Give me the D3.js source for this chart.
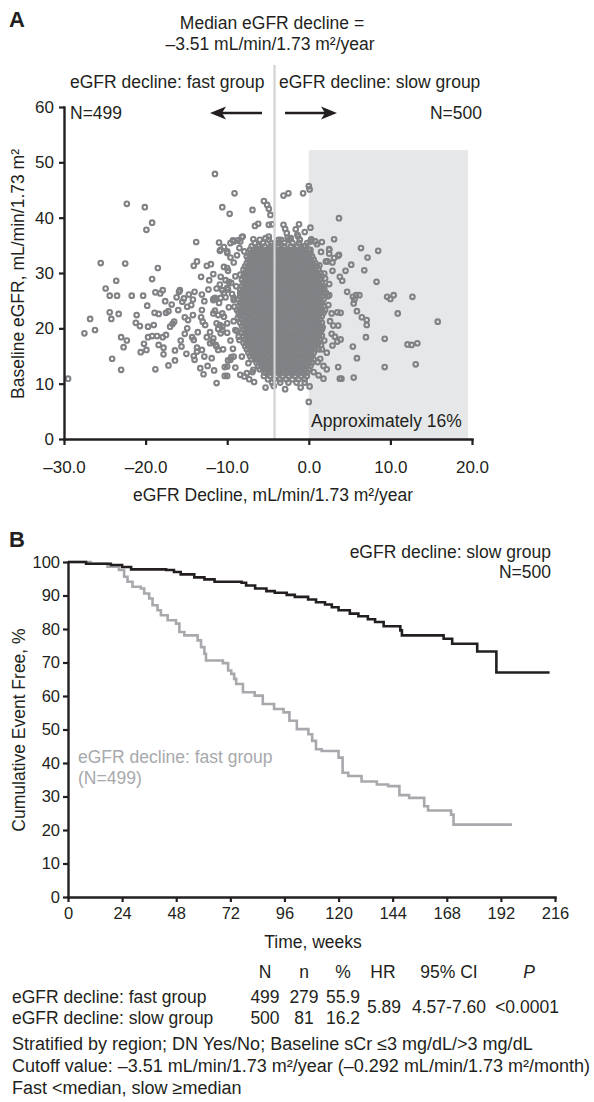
<!DOCTYPE html>
<html lang="en">
<head>
<meta charset="UTF-8">
<title>eGFR decline</title>
<script src="https://cdn.jsdelivr.net/npm/d3@7"></script>
<style>
  body { margin: 0; background: #fff; }
  svg { display: block; font-family: "Liberation Sans", Arial, sans-serif; }
</style>
</head>
<body>
<svg width="594" height="1102"></svg>
<script>
// ---------- panel A data (eGFR decline vs baseline eGFR) ----------
// outlying / scattered points, [decline, baseline]
var scatterPoints = [
  [-11.5,47.9],[-22.3,42.5],[-20.1,41.9],[-19.2,39.1],[-19.9,37.8],[-9.1,44.4],[-10.6,41.9],[-9.7,40.7],
  [-6.9,41.4],[-5.5,43.0],[-5.1,42.3],[-4.9,41.6],[-4.7,40.5],[-6.2,38.9],[-4.9,38.7],[-4.5,38.8],
  [-3.1,44.0],[-2.5,44.4],[-3.1,38.7],[-1.2,38.8],[-1.6,37.9],[-13.8,35.6],[-10.9,34.0],[-10.0,33.6],
  [-9.3,35.9],[-8.7,35.9],[-8.1,36.6],[-25.5,31.8],[-22.5,31.7],[-18.5,30.9],[-19.2,28.9],[-23.6,28.6],
  [-24.9,27.2],[-13.7,32.1],[-14.1,31.3],[-13.2,29.3],[-12.5,31.3],[-12.0,31.6],[-10.4,31.1],[-10.2,28.7],
  [-11.3,27.2],[-10.9,27.9],[-4.3,35.0],[-5.3,36.3],[-4.9,36.6],[-2.7,37.2],[-2.2,36.3],[-1.4,36.9],
  [-6.6,38.5],[-8.2,36.5],[-9.2,35.7],[-8.4,35.7],[-9.6,35.4],[-10.8,34.2],[-10.0,33.9],[-6.1,35.1],
  [-24.4,25.9],[-23.5,25.9],[-21.7,25.9],[-20.3,25.9],[-18.2,26.3],[-17.9,26.9],[-15.9,26.6],[-14.7,26.1],
  [-14.0,26.6],[-13.1,26.1],[-29.5,10.9],[-26.8,21.7],[-27.5,19.1],[-26.2,19.7],[-24.4,22.9],[-24.2,21.7],
  [-23.3,22.6],[-21.1,22.4],[-20.7,20.4],[-23.0,18.4],[-22.3,17.8],[-22.7,16.6],[-24.1,14.5],[-23.0,12.5],
  [-20.6,15.7],[-19.9,16.1],[-18.8,12.6],[-19.7,20.3],[-19.0,20.6],[-19.7,18.4],[-19.2,18.6],[-18.6,18.6],
  [-17.9,18.4],[-17.5,18.8],[-18.9,22.8],[-18.4,22.6],[-17.5,22.8],[-17.2,23.1],[-18.8,26.5],[-17.8,16.5],
  [-17.8,15.3],[-16.4,16.0],[-15.6,16.7],[-16.4,14.2],[-15.8,26.9],[-17.0,20.3],[-16.7,20.8],[-16.5,21.2],
  [-16.0,23.3],[-15.5,24.8],[-15.3,25.4],[-14.9,23.9],[-14.4,24.2],[-14.2,25.2],[-15.2,22.0],[-14.8,21.5],
  [-14.2,22.4],[-13.2,22.0],[-13.1,23.3],[-13.0,21.2],[-14.3,18.4],[-14.1,17.9],[-13.7,15.8],[-14.1,15.0],
  [-14.0,14.3],[-13.7,16.5],[-13.1,16.1],[-12.9,11.7],[-12.5,18.4],[-12.1,19.3],[-11.8,17.6],[-11.4,17.0],
  [-11.1,19.9],[-10.9,20.6],[-11.3,10.1],[-10.3,11.4],[-10.0,11.4],[-10.3,13.0],[-9.9,14.2],[-9.5,14.8],
  [-8.4,11.6],[-7.9,11.3],[-7.3,10.8],[-6.7,10.3],[-5.3,9.3],[-4.3,9.6],[-2.9,9.0],[-1.0,9.3],[0.1,9.5],
  [-12.8,24.9],[-12.3,27.0],[-11.7,25.3],[-11.5,23.2],[-11.0,24.6],[-10.6,22.7],[-10.2,25.6],[-9.8,23.8],
  [-9.4,26.2],[-9.2,21.3],[-10.0,19.2],[-9.6,17.8],[-10.5,16.2],[-11.9,14.6],[-12.4,13.2],[-11.6,12.4],
  [-9.3,16.3],[-9.0,12.9],[-8.8,19.5],[-12.7,20.6],[-12.2,28.7],[-11.7,29.8],[-10.8,29.3],[-9.9,30.4],
  [-9.2,31.9],[-8.8,33.2],[-9.6,32.8],[-10.4,34.7],[-11.0,35.5],[-8.5,34.5],[-9.5,28.2],[-9.9,27.0],
  [-10.0,30.9],[-10.6,26.9],[-9.8,28.4],[-10.8,25.5],[-11.5,25.5],[-9.0,29.4],[-9.2,25.5],[-12.1,17.3],
  [-11.7,18.2],[-11.3,16.7],[-11.1,16.1],[-10.8,19.1],[-10.6,19.7],[-10.0,13.1],[-9.6,14.3],[-9.2,14.9],
  [-11.7,25.1],[-10.4,26.4],[-10.0,27.3],[-11.7,22.7],[-11.1,22.4],[-10.4,22.1],[-11.3,20.9],[-10.6,20.3],
  [-10.0,20.9],[-9.2,25.1],[-8.8,23.3],[-9.0,19.7],[-8.6,18.5],[-8.2,14.9],[-7.4,13.7],[-6.8,12.5],[-7.6,11.9],
  [-15.2,19.0],[-15.7,17.8],[-14.9,20.0],[-13.6,19.3],[-12.8,14.9],[-13.3,12.8],[-15.0,15.4],[-16.8,24.3],
  [-17.6,24.9],[-16.2,25.6],[-19.8,24.1],[-21.2,21.0],[-20.2,17.2],[-18.4,17.0],[-17.2,13.3],
  [3.7,39.9],[0.0,45.7],[0.1,45.1],[-0.7,44.4],[-2.9,38.0],[0.2,38.2],[-0.5,37.4],[-1.3,36.6],[-2.6,36.4],
  [3.1,36.1],[2.5,34.3],[6.4,34.5],[8.5,34.0],[7.2,32.8],[3.6,33.1],[5.2,31.5],[6.8,30.5],[2.1,32.1],
  [2.9,31.9],[2.9,30.4],[0.3,36.1],[1.0,35.2],[4.1,28.6],[8.3,28.4],[4.7,26.6],[5.8,26.0],[6.2,26.0],
  [5.4,25.7],[9.6,25.7],[10.4,26.0],[12.7,25.7],[10.0,25.3],[2.3,25.8],[10.9,22.7],[15.8,21.2],[12.1,17.1],
  [12.6,17.0],[13.3,17.3],[13.1,13.5],[9.3,18.1],[9.3,13.0],[7.0,18.4],[7.1,21.5],[7.1,20.6],[6.5,22.0],
  [5.9,23.1],[5.5,24.5],[5.6,25.2],[2.1,26.4],[2.8,22.7],[3.5,22.9],[3.9,22.8],[3.0,20.5],[3.6,20.5],
  [2.8,19.0],[3.2,18.5],[3.5,17.6],[3.9,18.0],[2.9,16.9],[1.9,17.8],[1.5,17.0],[5.4,16.7],[5.9,14.6],
  [5.5,11.1],[3.6,13.0],[3.8,10.9],[4.0,10.9],[0.0,6.7],[1.4,14.5],[1.8,13.2],[2.2,12.6],[1.8,10.9],
  [1.2,11.5],[2.0,29.0],[2.5,28.0],[1.9,27.2],[2.4,24.2],[2.0,23.3],[2.6,21.3],[1.7,20.2],[2.2,15.6],
  [1.6,16.2],[4.5,30.4],[3.8,29.3],[2.5,33.5],[1.5,33.8],[1.6,35.6],[0.2,35.7],[0.8,35.7],[0.2,34.2],
  [2.5,34.2],[3.1,32.7],[2.3,32.1],[3.7,33.3],[2.5,26.0],[-8.4,29.7],[-7.8,29.4],[-8.4,26.4],
  [-7.9,33.9],[-6.8,36.1],[-3.4,36.0],[-0.4,34.9],[1.3,31.4],[1.9,29.9],[-8.9,27.6],[-9.1,23.9],
  [-8.7,21.9],[-8.5,17.9],[1.6,18.7],[1.1,13.9],[-6.9,12.1],[0.6,12.1]
];

// the dense centre of the cloud, read row by row: "baseline|declines"
var coreRows = [
  "36.0|-6 -4.9 -3.7 -2.4 -1.1 0.3",
  "35.4|-6.6 -5.6 -4.6 -3.8 -3 -2 -1.2 -0.2",
  "34.8|-7 -6.2 -5.4 -4.6 -3.8 -3 -2.2 -1.4 -0.6",
  "34.2|-7.2 -6.8 -6.4 -6 -5.6 -5.2 -4.8 -4.4 -4 -3.6 -3.2 -2.8 -2.4 -2 -1.6 -1.2 -0.8 -0.4 0",
  "33.6|-7.4 -7 -6.6 -6.2 -5.8 -5.4 -5 -4.6 -4.2 -3.8 -3.4 -3 -2.6 -2.2 -1.8 -1.4 -1 -0.6 -0.2 0.2",
  "33.0|-7.6 -7.2 -6.8 -6.4 -6 -5.6 -5.2 -4.8 -4.4 -4 -3.6 -3.2 -2.8 -2.4 -2 -1.6 -1.2 -0.8 -0.4 0 0.4",
  "32.4|-7.4 -7 -6.6 -6.2 -5.8 -5.4 -5 -4.6 -4.2 -3.8 -3.4 -3 -2.6 -2.2 -1.8 -1.4 -1 -0.6 -0.2 0.2 0.6",
  "31.8|-7.6 -7.2 -6.8 -6.4 -6 -5.6 -5.2 -4.8 -4.4 -4 -3.6 -3.2 -2.8 -2.4 -2 -1.6 -1.2 -0.8 -0.4 0 0.4 0.8",
  "31.2|-7.8 -7.4 -7 -6.6 -6.2 -5.8 -5.4 -5 -4.6 -4.2 -3.8 -3.4 -3 -2.6 -2.2 -1.8 -1.4 -1 -0.6 -0.2 0.2 0.6 1",
  "30.6|-8 -7.6 -7.2 -6.8 -6.4 -6 -5.6 -5.2 -4.8 -4.4 -4 -3.6 -3.2 -2.8 -2.4 -2 -1.6 -1.2 -0.8 -0.4 0 0.4 0.8 1.2",
  "30.0|-7.8 -7.4 -7 -6.6 -6.2 -5.8 -5.4 -5 -4.6 -4.2 -3.8 -3.4 -3 -2.6 -2.2 -1.8 -1.4 -1 -0.6 -0.2 0.2 0.6 1 1.4",
  "29.4|-8 -7.6 -7.2 -6.8 -6.4 -6 -5.6 -5.2 -4.8 -4.4 -4 -3.6 -3.2 -2.8 -2.4 -2 -1.6 -1.2 -0.8 -0.4 0 0.4 0.8 1.2 1.6",
  "28.8|-8.2 -7.8 -7.4 -7 -6.6 -6.2 -5.8 -5.4 -5 -4.6 -4.2 -3.8 -3.4 -3 -2.6 -2.2 -1.8 -1.4 -1 -0.6 -0.2 0.2 0.6 1 1.4",
  "28.2|-8 -7.6 -7.2 -6.8 -6.4 -6 -5.6 -5.2 -4.8 -4.4 -4 -3.6 -3.2 -2.8 -2.4 -2 -1.6 -1.2 -0.8 -0.4 0 0.4 0.8 1.2 1.6",
  "27.6|-8.2 -7.8 -7.4 -7 -6.6 -6.2 -5.8 -5.4 -5 -4.6 -4.2 -3.8 -3.4 -3 -2.6 -2.2 -1.8 -1.4 -1 -0.6 -0.2 0.2 0.6 1 1.4 1.8",
  "27.0|-8.4 -8 -7.6 -7.2 -6.8 -6.4 -6 -5.6 -5.2 -4.8 -4.4 -4 -3.6 -3.2 -2.8 -2.4 -2 -1.6 -1.2 -0.8 -0.4 0 0.4 0.8 1.2 1.6",
  "26.4|-8.2 -7.8 -7.4 -7 -6.6 -6.2 -5.8 -5.4 -5 -4.6 -4.2 -3.8 -3.4 -3 -2.6 -2.2 -1.8 -1.4 -1 -0.6 -0.2 0.2 0.6 1 1.4 1.8",
  "25.8|-8.4 -8 -7.6 -7.2 -6.8 -6.4 -6 -5.6 -5.2 -4.8 -4.4 -4 -3.6 -3.2 -2.8 -2.4 -2 -1.6 -1.2 -0.8 -0.4 0 0.4 0.8 1.2 1.6",
  "25.2|-8.6 -8.2 -7.8 -7.4 -7 -6.6 -6.2 -5.8 -5.4 -5 -4.6 -4.2 -3.8 -3.4 -3 -2.6 -2.2 -1.8 -1.4 -1 -0.6 -0.2 0.2 0.6 1 1.4 1.8",
  "24.6|-8.4 -8 -7.6 -7.2 -6.8 -6.4 -6 -5.6 -5.2 -4.8 -4.4 -4 -3.6 -3.2 -2.8 -2.4 -2 -1.6 -1.2 -0.8 -0.4 0 0.4 0.8 1.2 1.6",
  "24.0|-8.6 -8.2 -7.8 -7.4 -7 -6.6 -6.2 -5.8 -5.4 -5 -4.6 -4.2 -3.8 -3.4 -3 -2.6 -2.2 -1.8 -1.4 -1 -0.6 -0.2 0.2 0.6 1 1.4 1.8",
  "23.4|-8.4 -8 -7.6 -7.2 -6.8 -6.4 -6 -5.6 -5.2 -4.8 -4.4 -4 -3.6 -3.2 -2.8 -2.4 -2 -1.6 -1.2 -0.8 -0.4 0 0.4 0.8 1.2 1.6",
  "22.8|-8.6 -8.2 -7.8 -7.4 -7 -6.6 -6.2 -5.8 -5.4 -5 -4.6 -4.2 -3.8 -3.4 -3 -2.6 -2.2 -1.8 -1.4 -1 -0.6 -0.2 0.2 0.6 1 1.4 1.8",
  "22.2|-8.4 -8 -7.6 -7.2 -6.8 -6.4 -6 -5.6 -5.2 -4.8 -4.4 -4 -3.6 -3.2 -2.8 -2.4 -2 -1.6 -1.2 -0.8 -0.4 0 0.4 0.8 1.2 1.6",
  "21.6|-8.2 -7.8 -7.4 -7 -6.6 -6.2 -5.8 -5.4 -5 -4.6 -4.2 -3.8 -3.4 -3 -2.6 -2.2 -1.8 -1.4 -1 -0.6 -0.2 0.2 0.6 1 1.4",
  "21.0|-8.4 -8 -7.6 -7.2 -6.8 -6.4 -6 -5.6 -5.2 -4.8 -4.4 -4 -3.6 -3.2 -2.8 -2.4 -2 -1.6 -1.2 -0.8 -0.4 0 0.4 0.8 1.2 1.6",
  "20.4|-8.2 -7.8 -7.4 -7 -6.6 -6.2 -5.8 -5.4 -5 -4.6 -4.2 -3.8 -3.4 -3 -2.6 -2.2 -1.8 -1.4 -1 -0.6 -0.2 0.2 0.6 1 1.4",
  "19.8|-8 -7.6 -7.2 -6.8 -6.4 -6 -5.6 -5.2 -4.8 -4.4 -4 -3.6 -3.2 -2.8 -2.4 -2 -1.6 -1.2 -0.8 -0.4 0 0.4 0.8 1.2 1.6",
  "19.2|-8.2 -7.8 -7.4 -7 -6.6 -6.2 -5.8 -5.4 -5 -4.6 -4.2 -3.8 -3.4 -3 -2.6 -2.2 -1.8 -1.4 -1 -0.6 -0.2 0.2 0.6 1 1.4",
  "18.6|-8 -7.6 -7.2 -6.8 -6.4 -6 -5.6 -5.2 -4.8 -4.4 -4 -3.6 -3.2 -2.8 -2.4 -2 -1.6 -1.2 -0.8 -0.4 0 0.4 0.8 1.2",
  "18.0|-7.8 -7.4 -7 -6.6 -6.2 -5.8 -5.4 -5 -4.6 -4.2 -3.8 -3.4 -3 -2.6 -2.2 -1.8 -1.4 -1 -0.6 -0.2 0.2 0.6 1 1.4",
  "17.4|-8 -7.6 -7.2 -6.8 -6.4 -6 -5.6 -5.2 -4.8 -4.4 -4 -3.6 -3.2 -2.8 -2.4 -2 -1.6 -1.2 -0.8 -0.4 0 0.4 0.8 1.2",
  "16.8|-7.8 -7.4 -7 -6.6 -6.2 -5.8 -5.4 -5 -4.6 -4.2 -3.8 -3.4 -3 -2.6 -2.2 -1.8 -1.4 -1 -0.6 -0.2 0.2 0.6",
  "16.2|-7.6 -7.2 -6.8 -6.4 -6 -5.6 -5.2 -4.8 -4.4 -4 -3.6 -3.2 -2.8 -2.4 -2 -1.6 -1.2 -0.8 -0.4 0 0.4 0.8 1.2",
  "15.6|-7.4 -7 -6.6 -6.2 -5.8 -5.4 -5 -4.6 -4.2 -3.8 -3.4 -3 -2.6 -2.2 -1.8 -1.4 -1 -0.6 -0.2 0.2 0.6",
  "15.0|-7.2 -6.8 -6.4 -6 -5.6 -5.2 -4.8 -4.4 -4 -3.6 -3.2 -2.8 -2.4 -2 -1.6 -1.2 -0.8 -0.4 0 0.4",
  "14.4|-7 -6.6 -6.2 -5.8 -5.4 -5 -4.6 -4.2 -3.8 -3.4 -3 -2.6 -2.2 -1.8 -1.4 -1 -0.6 -0.2 0.2 0.6",
  "13.8|-6.4 -6 -5.6 -5.2 -4.8 -4.4 -4 -3.6 -3.2 -2.8 -2.4 -2 -1.6 -1.2 -0.8 -0.4 0 0.4",
  "13.2|-6.2 -5.8 -5.4 -5 -4.6 -4.2 -3.8 -3.4 -3 -2.6 -2.2 -1.8 -1.4 -1 -0.6 -0.2 0.2",
  "12.6|-6 -5.6 -5.2 -4.8 -4.4 -4 -3.6 -3.2 -2.8 -2.4 -2 -1.6 -1.2 -0.8 -0.4 0",
  "12.0|-5.4 -5 -4.6 -4.2 -3.8 -3.4 -3 -2.6 -2.2 -1.8 -1.4 -1 -0.6 -0.2",
  "11.4|-5.5 -4.75 -4 -3.25 -2.5 -1.75 -1 -0.25",
  "10.8|-5 -4.25 -3.5 -2.75 -2 -1.25 -0.5",
  "10.2|-4.5 -3.5 -2.5 -1.5 -0.5"
];

var xTicksA = [-30, -20, -10, 0, 10, 20];
var yTicksA = [0, 10, 20, 30, 40, 50, 60];
var medianDrawnAt = -4.2;           // where the grey split line sits on the axis
var shadeFrom = 0, shadeTo = 19.5, shadeTop = 52.2;

// ---------- panel B data (Kaplan-Meier) ----------
var slowWeeks = [0, 8, 19, 24, 28, 43.5, 47, 50, 56, 60.5, 65, 77, 79, 83, 88, 91.7, 97, 100.6, 106.5, 110,
  114, 117, 120, 125, 128.8, 133, 136.2, 140, 147.4, 148.1, 166.6, 170.4, 181.5, 190, 213.6];
var slowPct = [100, 99.5, 99.1, 98.5, 97.8, 97.6, 97, 96.3, 95.4, 94.8, 94.1, 93.8, 93, 92.1, 91.3, 90.8, 90.2, 89.6, 88.8, 88,
  87.3, 86.5, 85.6, 84.6, 83.8, 82.9, 82.1, 80.8, 79.6, 78.1, 77.1, 75.6, 73.3, 67, 67];
var fastWeeks = [0, 10, 17.5, 22.6, 24.9, 26.4, 28.6, 32.3, 33.8, 36, 37.5, 39.7, 41.2, 44.2, 47.9, 49.4, 51.6, 57.5, 59, 60.5,
  61.2, 68.7, 71, 72.4, 73.7, 74.6, 77.6, 82.8, 86.4, 91.4, 95.6, 98.2, 101.5, 106.6, 108.3, 110, 112.5, 120, 121.8, 124.3,
  130.2, 137, 142, 147, 151.3, 158, 159.7, 169.9, 171, 196.9];
var fastPct = [100, 99.5, 98.6, 97.6, 95.6, 94.1, 92.6, 92.1, 90.6, 89.1, 87.1, 85.6, 84.1, 82.6, 81.6, 79.1, 78.1, 76.6, 74.6, 72.6,
  70.6, 69.8, 67.6, 66.6, 65.1, 63.6, 61.1, 60.1, 57.6, 56.1, 55.1, 52.6, 50.1, 48.6, 46.6, 44.1, 43.6, 41.6, 37.1, 36.1,
  34.5, 33.6, 33.1, 30.4, 29.6, 27.1, 25.8, 24.6, 21.6, 21.6];
var weekTicks = [0, 24, 48, 72, 96, 120, 144, 168, 192, 216];
var pctTicks = [0, 10, 20, 30, 40, 50, 60, 70, 80, 90, 100];

// ---------- table + notes ----------
var tableHeads = ["N", "n", "%", "HR", "95% CI", "P"];
var groupNames = ["eGFR decline: fast group", "eGFR decline: slow group"];
var groupN = ["499", "500"];
var groupEvents = ["279", "81"];
var groupPct = ["55.9", "16.2"];
var hazard = ["5.89", "4.57-7.60", "<0.0001"];
var notes = [
  "Stratified by region; DN Yes/No; Baseline sCr \u22643 mg/dL/>3 mg/dL",
  "Cutoff value: \u20133.51 mL/min/1.73 m\u00b2/year (\u20130.292 mL/min/1.73 m\u00b2/month)",
  "Fast <median, slow \u2265median"
];

var ink = "#231f20", dotGrey = "#808285", lightGrey = "#a7a9ac";
var svg = d3.select("svg");
svg.append("rect").attr("width", 594).attr("height", 1102).attr("fill", "#fff");

function label(g, x, y, txt, size, anchor, fill) {
  return g.append("text").attr("x", x).attr("y", y)
    .attr("font-size", size || 17).attr("text-anchor", anchor || "start")
    .attr("fill", fill || ink).text(txt);
}
function styleAxis(g, size) {
  g.attr("font-family", null).attr("font-size", null);
  g.select(".domain").attr("stroke", ink).attr("stroke-width", 2.4).attr("stroke-linecap", "square");
  g.selectAll(".tick line").attr("stroke", ink).attr("stroke-width", 2.2);
  g.selectAll(".tick text").attr("fill", ink).attr("font-size", size);
}
var dashFmt = function (d) { return (d < 0 ? "\u2013" : "") + Math.abs(d).toFixed(1); };

// ================= panel A =================
var xA = d3.scaleLinear().domain([-30, 20]).range([64, 472]);
var yA = d3.scaleLinear().domain([0, 60]).range([439, 107]);
var gA = svg.append("g");

gA.append("rect")
  .attr("x", xA(shadeFrom)).attr("y", yA(shadeTop))
  .attr("width", xA(shadeTo) - xA(shadeFrom)).attr("height", yA(0) - yA(shadeTop))
  .attr("fill", "#e6e7e8");

var corePoints = [];
coreRows.forEach(function (row) {
  var parts = row.split("|");
  parts[1].split(" ").forEach(function (x) { corePoints.push([+x, +parts[0]]); });
});
var allPoints = corePoints.concat(scatterPoints);

gA.append("g").selectAll("circle").data(allPoints).enter().append("circle")
  .attr("cx", function (d) { return xA(d[0]); })
  .attr("cy", function (d) { return yA(d[1]); })
  .attr("r", 2.3)
  .attr("fill", "none")
  .attr("stroke", dotGrey)
  .attr("stroke-width", 2.1);

// median split line
gA.append("line")
  .attr("x1", xA(medianDrawnAt)).attr("x2", xA(medianDrawnAt))
  .attr("y1", 65).attr("y2", yA(0))
  .attr("stroke", "#d1d3d4").attr("stroke-width", 2.2);

var axXA = gA.append("g").attr("transform", "translate(0," + yA(0) + ")")
  .call(d3.axisBottom(xA).tickValues(xTicksA).tickFormat(dashFmt).tickSize(6).tickSizeOuter(0).tickPadding(16));
styleAxis(axXA, 17);
var axYA = gA.append("g").attr("transform", "translate(" + xA(-30) + ",0)")
  .call(d3.axisLeft(yA).tickValues(yTicksA).tickSize(5).tickSizeOuter(0).tickPadding(5));
styleAxis(axYA, 17);

label(gA, 9, 27, "A", 22).attr("font-weight", "bold");
label(gA, 272, 29, "Median eGFR decline =", 17.5, "middle");
label(gA, 270, 50, "\u20133.51 mL/min/1.73 m\u00b2/year", 17.5, "middle");
label(gA, 70, 88, "eGFR decline: fast group", 17.5);
label(gA, 70, 119, "N=499", 17.5);
label(gA, 279, 88, "eGFR decline: slow group", 17.5);
label(gA, 482, 119, "N=500", 17.5, "end");
label(gA, 311, 427, "Approximately 16%", 17.5);
label(gA, 273, 501, "eGFR Decline, mL/min/1.73 m\u00b2/year", 17.5, "middle");
label(gA.append("g").attr("transform", "translate(18,274) rotate(-90)"), 0, 6,
  "Baseline eGFR, mL/min/1.73 m\u00b2", 17.5, "middle");

// arrows either side of the split
function arrow(g, xTail, xTip, y) {
  var dir = xTip < xTail ? -1 : 1;
  g.append("line").attr("x1", xTail).attr("x2", xTip - dir * 10).attr("y1", y).attr("y2", y)
    .attr("stroke", ink).attr("stroke-width", 2.6);
  g.append("path")
    .attr("d", "M" + xTip + "," + y + "L" + (xTip - dir * 16) + "," + (y - 6.5) +
      "L" + (xTip - dir * 12) + "," + y + "L" + (xTip - dir * 16) + "," + (y + 6.5) + "Z")
    .attr("fill", ink);
}
arrow(gA, 262, 210, 113);
arrow(gA, 285, 337, 113);

// ================= panel B =================
var xB = d3.scaleLinear().domain([0, 216]).range([68, 555]);
var yB = d3.scaleLinear().domain([0, 100]).range([897, 562]);
var gB = svg.append("g");

var km = d3.line().x(function (d) { return xB(d[0]); }).y(function (d) { return yB(d[1]); })
  .curve(d3.curveStepAfter);
var fastCurve = fastWeeks.map(function (w, i) { return [w, fastPct[i]]; });
var slowCurve = slowWeeks.map(function (w, i) { return [w, slowPct[i]]; });

gB.append("path").datum(fastCurve).attr("d", km)
  .attr("fill", "none").attr("stroke", lightGrey).attr("stroke-width", 2.6);
gB.append("path").datum(slowCurve).attr("d", km)
  .attr("fill", "none").attr("stroke", ink).attr("stroke-width", 2.6);

var axXB = gB.append("g").attr("transform", "translate(0," + yB(0) + ")")
  .call(d3.axisBottom(xB).tickValues(weekTicks).tickSize(5).tickSizeOuter(0).tickPadding(5));
styleAxis(axXB, 16.5);
var axYB = gB.append("g").attr("transform", "translate(" + xB(0) + ",0)")
  .call(d3.axisLeft(yB).tickValues(pctTicks).tickSize(5).tickSizeOuter(0).tickPadding(3));
styleAxis(axYB, 16.5);

label(gB, 9, 547, "B", 22).attr("font-weight", "bold");
label(gB, 551, 558, "eGFR decline: slow group", 17.5, "end");
label(gB, 551, 578, "N=500", 17.5, "end");
label(gB, 78, 763, "eGFR decline: fast group", 17.5, "start", lightGrey);
label(gB, 78, 784, "(N=499)", 17.5, "start", lightGrey);
label(gB, 313, 948, "Time, weeks", 17.5, "middle");
label(gB.append("g").attr("transform", "translate(19,730) rotate(-90)"), 0, 6,
  "Cumulative Event Free, %", 17.5, "middle");

// ================= table + notes =================
var gT = svg.append("g");
var headX = [265, 304, 343, 383, 449, 529];
var valX = [265, 304, 343, 384, 449, 527];
tableHeads.forEach(function (h, i) {
  var t = label(gT, headX[i], 978, h, 17.5, "middle");
  if (h === "P") t.attr("font-style", "italic");
});
var rowY = [1003, 1024];
groupNames.forEach(function (g, i) {
  label(gT, 12, rowY[i], g, 17.5);
  label(gT, valX[0], rowY[i], groupN[i], 17.5, "middle");
  label(gT, valX[1], rowY[i], groupEvents[i], 17.5, "middle");
  label(gT, valX[2], rowY[i], groupPct[i], 17.5, "middle");
});
label(gT, valX[3], 1013, hazard[0], 17.5, "middle");
label(gT, valX[4], 1013, hazard[1], 17.5, "middle");
label(gT, valX[5], 1013, hazard[2], 17.5, "middle");
notes.forEach(function (n, i) { label(gT, 12, 1050 + i * 22, n, 18); });
</script>
</body>
</html>
